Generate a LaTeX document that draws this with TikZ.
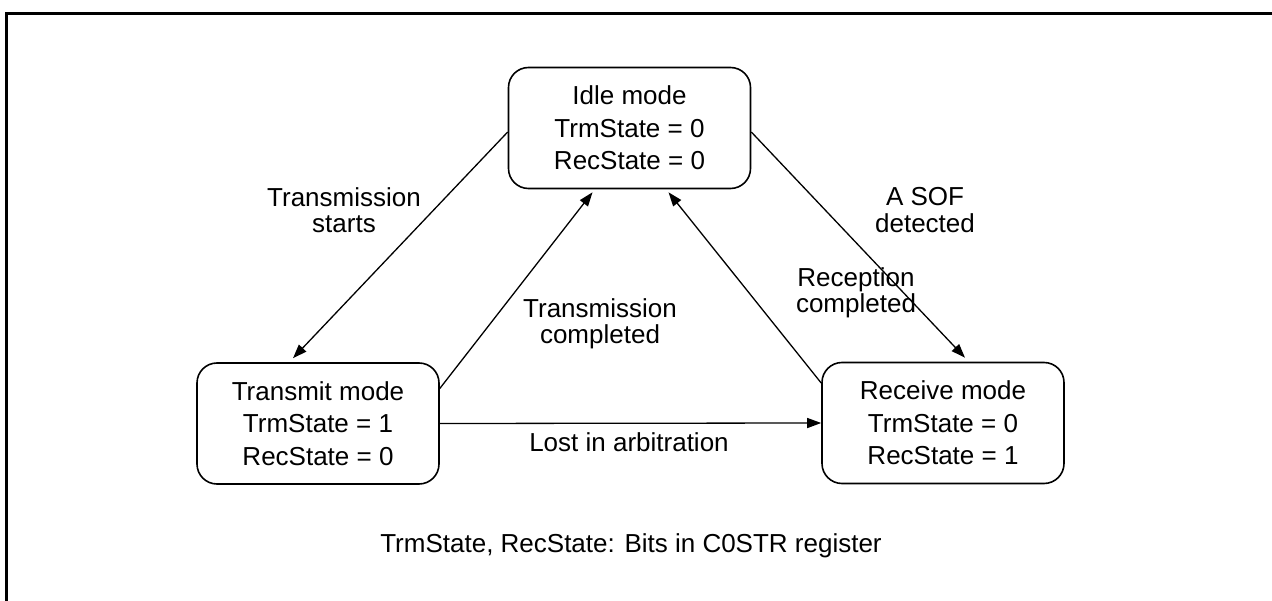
\documentclass[tikz,border=0pt]{standalone}
\usepackage{fontspec}
\setmainfont{Liberation Sans}
\usetikzlibrary{arrows.meta,calc}
\begin{document}
\begin{tikzpicture}[x=1pt,y=-1pt,
  state/.style={draw, line width=1.6pt, rounded corners=20pt, minimum width=242pt,
    minimum height=121pt, align=center, inner sep=0pt, font=\fontsize{26}{32.5}\selectfont},
  lbl/.style={align=center, inner sep=0pt, font=\fontsize{26}{26.5}\selectfont},
  conn/.style={line width=1.3pt, -{Triangle[length=14pt,width=10pt]}},
  frame/.style={line width=3pt}]
\useasboundingbox (0,0) rectangle (1272,601);
\coordinate (fb) at (6,601);
\coordinate (fc) at (6,14);
\coordinate (fr) at (1272,14);
\draw[frame] (fb) -- (fc) -- (fr);

\node[state] (idle) at (629.5,128) {Idle mode\\TrmState = 0\\RecState = 0};
\node[state] (tx) at (318,423.5) {Transmit mode\\TrmState = 1\\RecState = 0};
\node[state] (rx) at (943,423) {Receive mode\\TrmState = 0\\RecState = 1};

\draw[conn] ($(idle.west)+(0,4)$) -- ($(tx.north)+(-25,-4)$);
\draw[conn] ($(tx.east)+(0,-35)$) -- ($(idle.south)+(-37,3)$);
\draw[conn] ($(rx.west)+(0,-40)$) -- ($(idle.south)+(39,3)$);
\draw[conn] ($(idle.east)+(0,4)$) -- ($(rx.north)+(22,-4)$);
\draw[conn] (tx.east) -- (rx.west);

\node[lbl] (l1) at (344,210) {Transmission\\starts};
\node[lbl] (l2) at (600,324) {Transmission\\completed};
\node[lbl] (l3) at (856,293) {Reception\\completed};
\node[lbl] (l4) at (925,210) {A SOF\\detected};
\node[lbl, anchor=base] (l5) at (629,452) {Lost in arbitration};
\node[lbl, anchor=base] (foot) at (631,552) {TrmState, RecState: Bits in C0STR register};
\end{tikzpicture}
\end{document}
